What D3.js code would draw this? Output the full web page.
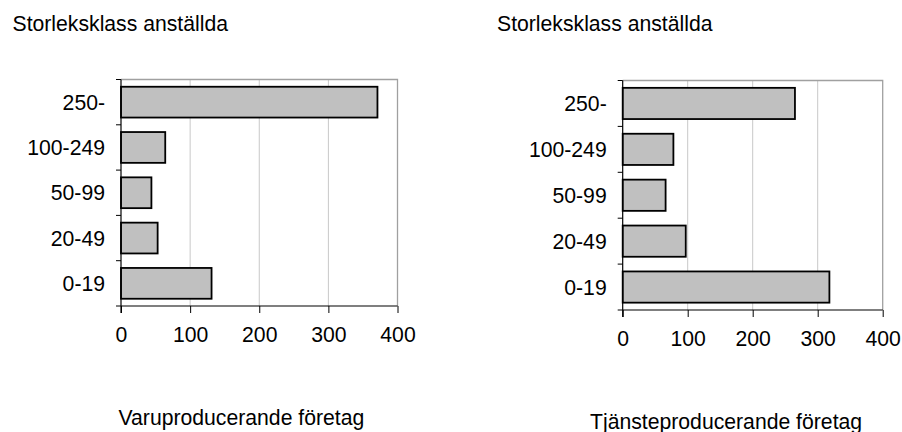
<!DOCTYPE html>
<html><head><meta charset="utf-8">
<script src="https://cdn.jsdelivr.net/npm/d3@7"></script>
<style>body{margin:0;background:#fff}svg{display:block}text{font-family:"Liberation Sans",Arial,sans-serif;fill:#000}</style>
</head><body>
<svg id="c" width="902" height="432"></svg>
<script>
const categories = ["250-", "100-249", "50-99", "20-49", "0-19"];
const varuValues = [371, 64, 44, 53, 131];
const tjanstValues = [265, 78, 66, 97, 318];
const xTicks = [0, 100, 200, 300, 400];
const yAxisTitle = "Storleksklass anställda";
const titles = ["Varuproducerande företag", "Tjänsteproducerande företag"];

const svg = d3.select("#c");
const FS = 21.2;

function panel(cfg, values, title) {
  const g = svg.append("g");
  const x = d3.scaleLinear().domain([0, 400]).range([cfg.x0, cfg.x1]);
  const y = d3.scaleBand().domain(categories).range([cfg.top, cfg.bottom]).paddingInner(0.32).paddingOuter(0.16);
  g.selectAll("line.grid").data(xTicks.slice(1, -1)).join("line")
    .attr("x1", d => x(d)).attr("x2", d => x(d))
    .attr("y1", cfg.top).attr("y2", cfg.bottom)
    .attr("stroke", "#c8c8c8").attr("stroke-width", 1);
  g.append("path")
    .attr("d", `M${cfg.x0},${cfg.top}H${cfg.x1}V${cfg.bottom}`)
    .attr("fill", "none").attr("stroke", "#a0a0a0").attr("stroke-width", 1.3);
  g.selectAll("rect.bar").data(categories).join("rect")
    .attr("x", x(0)).attr("y", d => y(d))
    .attr("width", (d, i) => x(values[i]) - x(0))
    .attr("height", y.bandwidth())
    .attr("fill", "#c0c0c0").attr("stroke", "#000").attr("stroke-width", 1.8);
  const xa = g.append("g").attr("transform", `translate(0,${cfg.bottom})`)
    .call(d3.axisBottom(x).tickValues(xTicks).tickSize(7).tickPadding(14).tickFormat(d3.format("d")));
  xa.select(".domain").attr("stroke", "#000").attr("stroke-width", 1.2).attr("d", `M${cfg.x0},0H${cfg.x1}`);
  xa.selectAll(".tick line").attr("stroke", "#000");
  xa.selectAll("text").attr("font-size", FS).attr("font-family", "Liberation Sans, Arial, sans-serif");
  const bounds = d3.range(categories.length + 1).map(i => cfg.top + i * (cfg.bottom - cfg.top) / categories.length);
  g.append("line").attr("x1", cfg.x0).attr("x2", cfg.x0).attr("y1", cfg.top).attr("y2", cfg.bottom + 7)
    .attr("stroke", "#000").attr("stroke-width", 1.2);
  g.selectAll("line.yt").data(bounds).join("line")
    .attr("x1", cfg.x0 - 5).attr("x2", cfg.x0).attr("y1", d => d).attr("y2", d => d)
    .attr("stroke", "#000").attr("stroke-width", 1);
  g.selectAll("text.yl").data(categories).join("text")
    .attr("x", cfg.x0 - 16).attr("y", d => y(d) + y.bandwidth() / 2)
    .attr("text-anchor", "end").attr("dominant-baseline", "central")
    .attr("font-size", FS).text(d => d);
  svg.append("text").attr("x", cfg.tx).attr("y", 30.5).attr("font-size", FS).text(yAxisTitle);
  svg.append("text").attr("x", cfg.bx).attr("y", cfg.by).attr("font-size", FS).text(title);
}

panel({x0: 121, x1: 397.5, top: 79.5, bottom: 306, tx: 12.5, bx: 118.5, by: 425}, varuValues, titles[0]);
panel({x0: 622.7, x1: 882.7, top: 80.5, bottom: 310, tx: 497, bx: 590, by: 429}, tjanstValues, titles[1]);
</script>
</body></html>
